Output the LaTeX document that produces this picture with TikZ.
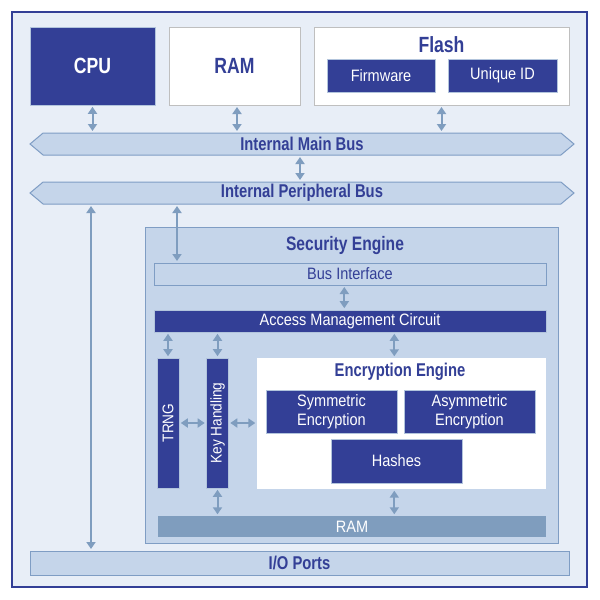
\documentclass[tikz,border=0pt]{standalone}
\usepackage{fontspec}
\setmainfont{Liberation Sans}[FakeStretch=0.88]
\newfontfamily\bfam{Liberation Sans}[FakeStretch=0.8]
\usetikzlibrary{shapes.symbols,arrows.meta}
\definecolor{dkblue}{HTML}{333F96}
\definecolor{bgout}{HTML}{E8EEF7}
\definecolor{midfill}{HTML}{C5D5EA}
\definecolor{edgec}{HTML}{7F9DC4}
\definecolor{ramfill}{HTML}{7F9DBE}
\definecolor{arrc}{HTML}{7F9DBF}
\tikzset{
  darkbox/.style={fill=dkblue, draw=edgec!60, line width=0.6pt, text=white, inner sep=0pt},
  whitebox/.style={fill=white, draw=black!25, line width=1pt, inner sep=0pt},
  lightbox/.style={fill=midfill, draw=edgec, line width=1pt, inner sep=0pt, text=dkblue},
  ramstrip/.style={fill=ramfill, draw=none, text=white, inner sep=0pt},
  busshape/.style={signal, signal to=east and west, signal pointer angle=80, fill=midfill, draw=edgec, line width=1pt, inner sep=0pt, text=dkblue},
  link/.style={draw=arrc, line width=2pt, {Triangle[width=9pt,length=7pt]}-{Triangle[width=9pt,length=7pt]}, shorten >=1.5pt, shorten <=1.5pt},
  bigbold/.style={font=\bfam\bfseries\fontsize{22}{24}\selectfont},
  midbold/.style={font=\bfam\bfseries\fontsize{18.5}{20}\selectfont},
  regtext/.style={font=\fontsize{16.5}{19}\selectfont},
}
\begin{document}
\begin{tikzpicture}[x=1pt,y=-1pt]
\useasboundingbox (0,0) rectangle (600,600);
% outer frame
\node[draw=dkblue, line width=2pt, fill=bgout, minimum width=575, minimum height=575, inner sep=0pt] (frame) at (299.5,299.5) {};
% top row
\node[darkbox, bigbold, minimum width=125, minimum height=78] (cpu) at (92.5,66) {CPU};
\node[whitebox, bigbold, text=dkblue, minimum width=131, minimum height=78] (ram) at (234.5,66) {RAM};
\node[whitebox, minimum width=255, minimum height=78] (flash) at (441.5,66) {};
\node[bigbold, text=dkblue, inner sep=0pt] (flashtitle) at (441.5,45) {Flash};
\node[darkbox, regtext, minimum width=108, minimum height=33] (fw) at (381,75.5) {Firmware};
\node[darkbox, regtext, minimum width=109, minimum height=33] (uid) at (502.5,75.5) {Unique ID};
% buses
\node[busshape, midbold, minimum width=544, minimum height=22] (mainbus) at (302,144) {Internal Main Bus};
\node[busshape, midbold, minimum width=544, minimum height=22] (perbus) at (302,193) {Internal Peripheral Bus};
% security engine
\node[lightbox, minimum width=413, minimum height=316] (sec) at (351.5,385) {};
\node[font=\bfam\bfseries\fontsize{19.5}{21}\selectfont, text=dkblue, inner sep=0pt] (sectitle) at (345,245) {Security Engine};
\node[lightbox, regtext, minimum width=392, minimum height=22] (busif) at (350,274) {Bus Interface};
\node[darkbox, regtext, minimum width=392, minimum height=22] (amc) at (350,321) {Access Management Circuit};
\node[darkbox, font=\fontsize{15.5}{18}\selectfont, minimum width=22, minimum height=130] (trng) at (168,423) {\rotatebox{90}{TRNG}};
\node[darkbox, font=\fontsize{15.5}{18}\selectfont, minimum width=22, minimum height=130] (kh) at (217.5,423) {\rotatebox{90}{Key Handling}};
\node[fill=white, draw=none, minimum width=289, minimum height=131, inner sep=0pt] (enc) at (401.5,423.5) {};
\node[midbold, text=dkblue, inner sep=0pt] (enctitle) at (400,372) {Encryption Engine};
\node[darkbox, regtext, align=center, minimum width=131, minimum height=43] (sym) at (331.5,411.5) {Symmetric\\Encryption};
\node[darkbox, regtext, align=center, minimum width=131, minimum height=43] (asym) at (469.5,411.5) {Asymmetric\\Encryption};
\node[darkbox, regtext, minimum width=131, minimum height=44] (hash) at (396.5,461) {Hashes};
\node[ramstrip, regtext, minimum width=388, minimum height=21] (ram2) at (352,526.5) {RAM};
\node[lightbox, midbold, minimum width=539, minimum height=24] (io) at (299.5,563) {I/O Ports};
% connector x positions
\coordinate (xram) at (237,0);
\coordinate (xmid) at (300,0);
\coordinate (xio) at (91,0);
\coordinate (xbi) at (177,0);
\coordinate (xamc) at (344.3,0);
\coordinate (xenc) at (394.3,0);
% connectors
\draw[link] (cpu.south) -- (cpu.south |- mainbus.north);
\draw[link] (ram.south -| xram) -- (xram |- mainbus.north);
\draw[link] (flash.south) -- (flash.south |- mainbus.north);
\draw[link] (xmid |- mainbus.south) -- (xmid |- perbus.north);
\draw[link] (xio |- perbus.south) -- (xio |- io.north);
\draw[link] (xbi |- perbus.south) -- (xbi |- busif.north);
\draw[link] (xamc |- busif.south) -- (xamc |- amc.north);
\draw[link] (trng.north |- amc.south) -- (trng.north);
\draw[link] (kh.north |- amc.south) -- (kh.north);
\draw[link] (xenc |- amc.south) -- (xenc |- enc.north);
\draw[link] (trng.east) -- (kh.west);
\draw[link] (kh.east) -- (kh.east -| enc.west);
\draw[link] (kh.south) -- (kh.south |- ram2.north);
\draw[link] (xenc |- enc.south) -- (xenc |- ram2.north);
\end{tikzpicture}
\end{document}
